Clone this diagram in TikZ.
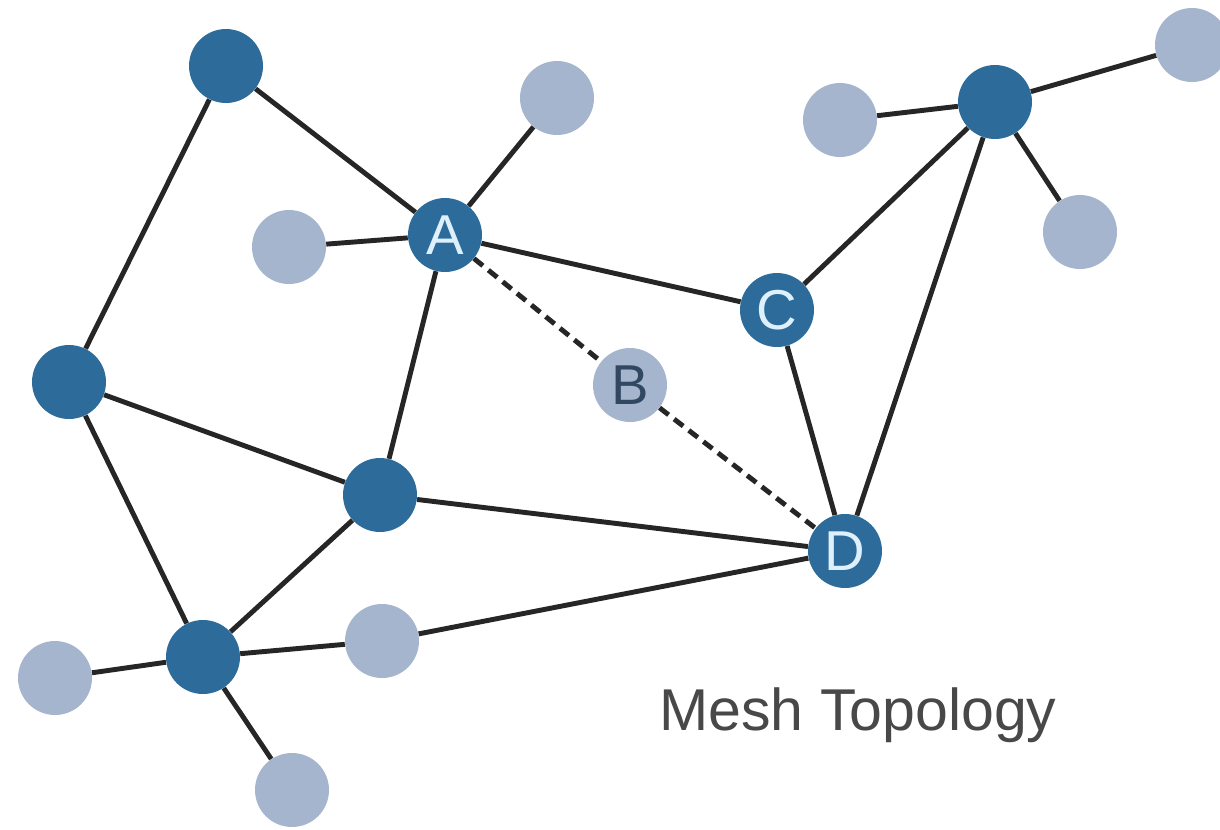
\documentclass[tikz,border=0pt]{standalone}
\usepackage{fontspec}
\setmainfont{Liberation Sans}
\definecolor{meshdark}{RGB}{44,107,154}
\definecolor{meshlight}{RGB}{164,181,205}
\definecolor{meshline}{RGB}{38,38,38}
\definecolor{meshtext}{RGB}{72,72,72}
\definecolor{meshlabel}{RGB}{222,240,252}
\definecolor{meshlabelb}{RGB}{50,72,98}
\begin{document}
\begin{tikzpicture}[x=0.02cm, y=-0.02cm,
    hub/.style={circle, fill=meshdark, minimum size=1.48cm, inner sep=0pt, text=meshlabel, font=\fontsize{32}{32}\selectfont},
    leaf/.style={circle, fill=meshlight, minimum size=1.48cm, inner sep=0pt, text=meshlabelb, font=\fontsize{32}{32}\selectfont},
    link/.style={draw=meshline, line width=2.8pt},
    weak/.style={link, dash pattern=on 6.5pt off 4pt}
]
    \useasboundingbox (0,0) rectangle (1220,829);

    % Dark hubs
    \node[hub] (tl) at (226,66) {};
    \node[hub] (a) at (445,235) {A};
    \node[hub] (c) at (777,310) {C};
    \node[hub] (l) at (69,382) {};
    \node[hub] (m) at (380,495) {};
    \node[hub] (d) at (845,551) {D};
    \node[hub] (bl) at (203,657) {};
    \node[hub] (tr) at (995,102) {};

    % Light leaves
    \node[leaf] (a1) at (557,98) {};
    \node[leaf] (a2) at (289,247) {};
    \node[leaf] (b) at (630,385) {B};
    \node[leaf] (t1) at (840,120) {};
    \node[leaf] (t2) at (1192,45) {};
    \node[leaf] (t3) at (1080,232) {};
    \node[leaf] (b1) at (382,641) {};
    \node[leaf] (b2) at (55,678) {};
    \node[leaf] (b3) at (292,790) {};

    % Links
    \draw[link] (tl) -- (a);
    \draw[link] (tl) -- (l);
    \draw[link] (a) -- (a1);
    \draw[link] (a) -- (a2);
    \draw[link] (a) -- (c);
    \draw[link] (a) -- (m);
    \draw[link] (c) -- (tr);
    \draw[link] (c) -- (d);
    \draw[link] (tr) -- (t1);
    \draw[link] (tr) -- (t2);
    \draw[link] (tr) -- (t3);
    \draw[link] (tr) -- (d);
    \draw[link] (l) -- (m);
    \draw[link] (l) -- (bl);
    \draw[link] (m) -- (d);
    \draw[link] (m) -- (bl);
    \draw[link] (bl) -- (b1);
    \draw[link] (b1) -- (d);
    \draw[link] (bl) -- (b2);
    \draw[link] (bl) -- (b3);

    % Broken path through B
    \draw[weak] (a) -- (b);
    \draw[weak] (b) -- (d);

    % Caption
    \node[anchor=base west, inner sep=0pt, text=meshtext, font=\fontsize{33.6}{34}\selectfont] (title) at (659,730) {Mesh Topology};
\end{tikzpicture}
\end{document}
